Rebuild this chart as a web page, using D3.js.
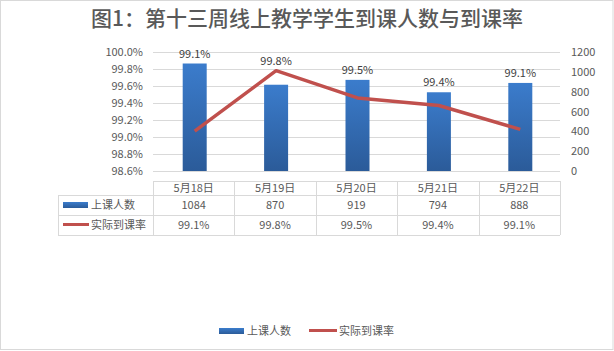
<!DOCTYPE html>
<html>
<head>
<meta charset="utf-8">
<script src="https://cdn.jsdelivr.net/npm/d3@7"></script>
<style>
  html, body { margin: 0; padding: 0; background: #fff; }
  svg { display: block; font-family: "Noto Sans CJK SC", "Noto Sans", sans-serif; }
</style>
</head>
<body>
<div id="chart"></div>
<script>
// chart data
const days = ["5月18日", "5月19日", "5月20日", "5月21日", "5月22日"];
const attendance = [1084, 870, 919, 794, 888];
const rate = [99.07, 99.78, 99.46, 99.37, 99.09];
const rateLabels = ["99.1%", "99.8%", "99.5%", "99.4%", "99.1%"];
const leftTicks = [98.6, 98.8, 99.0, 99.2, 99.4, 99.6, 99.8, 100.0];
const rightTicks = [0, 200, 400, 600, 800, 1000, 1200];

const W = 614, H = 351;
const TEXT = "#595959";
const GRID = "#d9d9d9";
const RED = "#c0504d";

const svg = d3.select("#chart").append("svg")
  .attr("width", W).attr("height", H);

// outer border
svg.append("rect")
  .attr("x", 0.5).attr("y", 0.5).attr("width", W - 1.5).attr("height", H - 2)
  .attr("fill", "#fff").attr("stroke", GRID);

// title
svg.append("text")
  .attr("x", 307).attr("y", 26)
  .attr("text-anchor", "middle")
  .attr("font-size", 21).attr("font-weight", 500)
  .attr("fill", TEXT)
  .text("图1：第十三周线上教学学生到课人数与到课率");

// scales
const x = d3.scaleBand().domain(days).range([153, 560]).padding(0);
const yL = d3.scaleLinear().domain([98.6, 100]).range([171, 52]);
const yR = d3.scaleLinear().domain([0, 1200]).range([171, 52]);

// gradient for bars
const defs = svg.append("defs");
const grad = defs.append("linearGradient").attr("id", "barGrad")
  .attr("x1", 0).attr("x2", 0).attr("y1", 0).attr("y2", 1);
grad.append("stop").attr("offset", "0%").attr("stop-color", "#3b7ccc");
grad.append("stop").attr("offset", "100%").attr("stop-color", "#2b5b99");

// gridlines
svg.append("g").selectAll("line")
  .data(leftTicks)
  .join("line")
    .attr("x1", 153).attr("x2", 560)
    .attr("y1", d => Math.round(yL(d)) + 0.5)
    .attr("y2", d => Math.round(yL(d)) + 0.5)
    .attr("stroke", GRID).attr("stroke-width", 1);

// left axis labels
svg.append("g").selectAll("text")
  .data(leftTicks)
  .join("text")
    .attr("x", 143).attr("y", d => yL(d) + 4)
    .attr("text-anchor", "end")
    .attr("font-size", 11).attr("fill", TEXT)
    .text(d => d.toFixed(1) + "%");

// right axis labels
svg.append("g").selectAll("text")
  .data(rightTicks)
  .join("text")
    .attr("x", 571).attr("y", d => yR(d) + 4)
    .attr("font-size", 11).attr("fill", TEXT)
    .text(d => d);

// bars
const barW = 24;
svg.append("g").selectAll("rect")
  .data(days)
  .join("rect")
    .attr("x", d => x(d) + x.bandwidth() / 2 - barW / 2 + 1)
    .attr("y", (d, i) => yR(attendance[i]))
    .attr("width", barW)
    .attr("height", (d, i) => yR(0) - yR(attendance[i]))
    .attr("fill", "url(#barGrad)");

// rate line
const line = d3.line()
  .x((d, i) => x(days[i]) + x.bandwidth() / 2 + 1)
  .y(d => yL(d));
svg.append("path")
  .datum(rate)
  .attr("d", line)
  .attr("fill", "none")
  .attr("stroke", RED)
  .attr("stroke-width", 3.5)
  .attr("stroke-linejoin", "round");

// data labels above bar or line point
svg.append("g").selectAll("text")
  .data(days)
  .join("text")
    .attr("x", d => x(d) + x.bandwidth() / 2 + 1)
    .attr("y", (d, i) => Math.min(yR(attendance[i]), yL(rate[i])) - 6)
    .attr("text-anchor", "middle")
    .attr("font-size", 11).attr("fill", "#404040")
    .text((d, i) => rateLabels[i]);

// data table
const tbl = svg.append("g").attr("stroke", GRID).attr("stroke-width", 1);
const rowY = [181, 195, 215, 235];
const colX = [58].concat(days.map(d => x(d)), [560]);
// horizontal lines
tbl.append("line").attr("x1", 153).attr("x2", 560).attr("y1", rowY[0] + 0.5).attr("y2", rowY[0] + 0.5);
rowY.slice(1).forEach(y => {
  tbl.append("line").attr("x1", 58).attr("x2", 560).attr("y1", y + 0.5).attr("y2", y + 0.5);
});
// vertical lines
tbl.append("line").attr("x1", 58.5).attr("x2", 58.5).attr("y1", rowY[1]).attr("y2", rowY[3]);
colX.slice(1).forEach(cx => {
  const xx = Math.round(cx) + 0.5;
  tbl.append("line").attr("x1", xx).attr("x2", xx).attr("y1", rowY[0]).attr("y2", rowY[3]);
});

const cellText = svg.append("g").attr("font-size", 11).attr("fill", TEXT).attr("text-anchor", "middle");
cellText.selectAll(".hdr").data(days).join("text").attr("class", "hdr")
  .attr("x", d => x(d) + x.bandwidth() / 2).attr("y", 192).text(d => d);
cellText.selectAll(".att").data(days).join("text").attr("class", "att")
  .attr("x", d => x(d) + x.bandwidth() / 2).attr("y", 209).text((d, i) => attendance[i]);
cellText.selectAll(".rt").data(days).join("text").attr("class", "rt")
  .attr("x", d => x(d) + x.bandwidth() / 2).attr("y", 229).text((d, i) => rateLabels[i]);

// table legend keys
svg.append("rect").attr("x", 63).attr("y", 202).attr("width", 25).attr("height", 6).attr("fill", "url(#barGrad)");
svg.append("text").attr("x", 91).attr("y", 209).attr("font-size", 11).attr("fill", TEXT).text("上课人数");
svg.append("line").attr("x1", 63).attr("x2", 89).attr("y1", 224.5).attr("y2", 224.5)
  .attr("stroke", RED).attr("stroke-width", 3);
svg.append("text").attr("x", 91).attr("y", 229).attr("font-size", 11).attr("fill", TEXT).text("实际到课率");

// bottom legend
svg.append("rect").attr("x", 219).attr("y", 328).attr("width", 25).attr("height", 6).attr("fill", "url(#barGrad)");
svg.append("text").attr("x", 247).attr("y", 335).attr("font-size", 11).attr("fill", TEXT).text("上课人数");
svg.append("line").attr("x1", 309).attr("x2", 337).attr("y1", 330.5).attr("y2", 330.5)
  .attr("stroke", RED).attr("stroke-width", 3);
svg.append("text").attr("x", 339).attr("y", 335).attr("font-size", 11).attr("fill", TEXT).text("实际到课率");
</script>
</body>
</html>
